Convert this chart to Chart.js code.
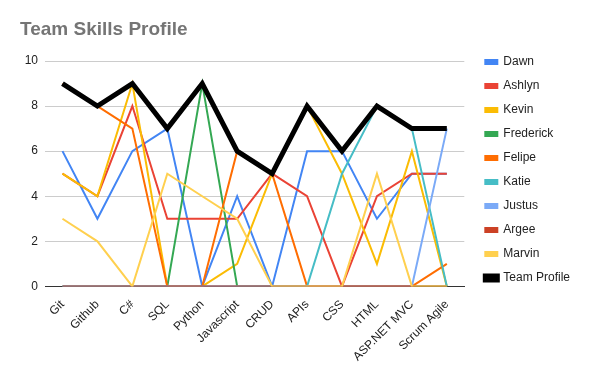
<!DOCTYPE html>
<html>
<head>
	<meta charset="UTF-8">
	<title>Team Skills Profile</title>
	<style>
		body { margin: 0; background: #fff; }
		#wrap { width: 593px; height: 371px; }
	</style>
	<script src="https://cdn.jsdelivr.net/npm/chart.js@4/dist/chart.umd.min.js"></script>
</head>
<body>
	<div id="wrap"><canvas id="canvas"></canvas></div>
	<script>
		var skills = ['Git', 'Github', 'C#', 'SQL', 'Python', 'Javascript', 'CRUD', 'APIs', 'CSS', 'HTML', 'ASP.NET MVC', 'Scrum Agile'];
		var yTicks = [0, 2, 4, 6, 8, 10];

		var names = ['Dawn', 'Ashlyn', 'Kevin', 'Frederick', 'Felipe', 'Katie', 'Justus', 'Argee', 'Marvin', 'Team Profile'];

		var dawn      = [6, 3, 6, 7, 0, 4, 0, 6, 6, 3, 5, 5];
		var ashlyn    = [5, 4, 8, 3, 3, 3, 5, 4, 0, 4, 5, 5];
		var kevin     = [5, 4, 9, 0, 0, 1, 5, 8, 5, 1, 6, 0];
		var frederick = [0, 0, 0, 0, 9, 0, 0, 0, 0, 0, 0, 0];
		var felipe    = [9, 8, 7, 0, 0, 6, 5, 0, 0, 0, 0, 1];
		var katie     = [0, 0, 0, 0, 0, 0, 0, 0, 5, 8, 7, 0];
		var justus    = [0, 0, 0, 0, 0, 0, 0, 0, 0, 0, 0, 7];
		var argee     = [0, 0, 0, 0, 0, 0, 0, 0, 0, 0, 0, 0];
		var marvin    = [3, 2, 0, 5, 4, 3, 0, 0, 0, 5, 0, 0];
		var team      = [9, 8, 9, 7, 9, 6, 5, 8, 6, 8, 7, 7];

		var series = [dawn, ashlyn, kevin, frederick, felipe, katie, justus, argee, marvin, team];
		var colors = ['#4285f4', '#ea4335', '#fbbc04', '#34a853', '#ff6d01', '#46bdc6', '#7baaf7', '#cc4125', '#ffd04f', '#000000'];

		var font = 'Arial, "Liberation Sans", sans-serif';

		var datasets = series.map(function(d, i){
			return {
				label: names[i],
				data: d,
				borderColor: colors[i],
				backgroundColor: colors[i],
				borderWidth: i == 9 ? 5 : 2,
				pointRadius: 0,
				pointHoverRadius: 0,
				tension: 0,
				// google draws the first series at the bottom, the team line on top
				order: series.length - i
			};
		});

		new Chart(document.getElementById('canvas').getContext('2d'), {
			type: 'line',
			data: { labels: skills, datasets: datasets },
			options: {
				responsive: true,
				maintainAspectRatio: false,
				animation: false,
				layout: { padding: { left: 20, right: 13, top: 10, bottom: 4 } },
				plugins: {
					title: {
						display: true,
						text: 'Team Skills Profile',
						align: 'start',
						color: '#757575',
						font: { family: font, size: 19, weight: 'bold' },
						padding: { top: 8.6, bottom: 19.6 }
					},
					legend: {
						position: 'right',
						align: 'start',
						maxWidth: 200,
						title: { display: true, text: ' ', font: { size: 12 }, padding: { top: 19.6, bottom: 0 } },
						labels: {
							boxWidth: 12,
							boxHeight: 4,
							padding: 12,
							color: '#222',
							font: { family: font, size: 12 },
							sort: function(a, b){ return a.datasetIndex - b.datasetIndex; }
						}
					},
					tooltip: { enabled: false }
				},
				scales: {
					x: {
						offset: true,
						grid: { display: false },
						border: { color: '#333' },
						ticks: {
							minRotation: 45, maxRotation: 45,
							color: '#222',
							font: { family: font, size: 12 }
						}
					},
					y: {
						min: 0, max: 10,
						afterBuildTicks: function(axis){ axis.ticks = yTicks.map(function(v){ return { value: v }; }); },
						afterFit: function(axis){ axis.width = 25; },
						grid: { color: '#cccccc', drawTicks: false },
						border: { display: false },
						ticks: {
							padding: 7,
							color: '#222',
							font: { family: font, size: 12 }
						}
					},
					gap: {
						position: 'right',
						afterFit: function(axis){ axis.width = 9; },
						grid: { display: false },
						border: { display: false },
						ticks: { display: false }
					}
				}
			}
		});
	</script>
</body>
</html>
